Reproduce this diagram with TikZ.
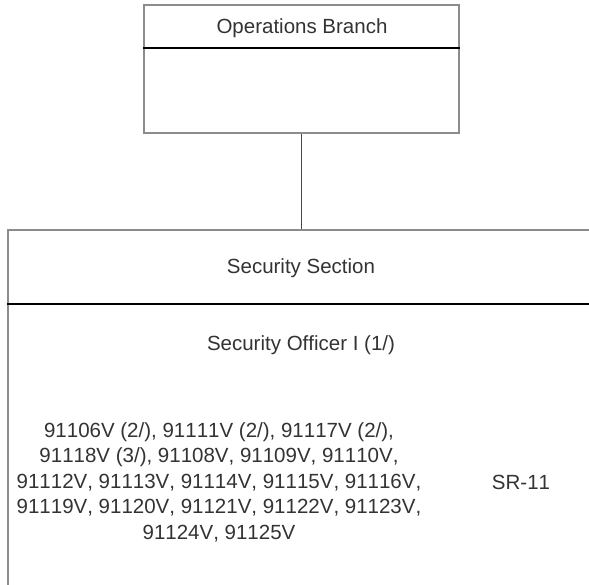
\documentclass[tikz,border=0pt]{standalone}
\usepackage{fontspec}
\setmainfont{Liberation Sans}[Kerning=Off]
\begin{document}
\begin{tikzpicture}[x=1pt,y=-1pt,
  boxframe/.style={draw=black!45, line width=1.3pt, rectangle, inner sep=0pt},
  divider/.style={draw=black, line width=1.5pt},
  conn/.style={draw=black!72, line width=1.4pt},
  txt/.style={text=black!80, font=\fontsize{20.5}{25.5}\selectfont, inner sep=0pt}]
\useasboundingbox (0,0) rectangle (589,585);
\clip (0,0) rectangle (589,585);
\fill[white] (0,0) rectangle (589,585);
% upper box
\node[boxframe, minimum width=315pt, minimum height=128pt] (ops) at (301.5,69) {};
\coordinate (d1) at (0,48);
\draw[divider] (ops.west |- d1) -- (ops.east |- d1);
\node[txt, anchor=base] (opsname) at (302,34) {Operations Branch};
% lower box
\node[boxframe, minimum width=620pt, minimum height=410pt] (sec) at (318,435) {};
\coordinate (d2) at (0,304);
\draw[divider] (sec.west |- d2) -- (sec.east |- d2);
\node[txt, anchor=base] (secname) at (301,274) {Security Section};
\node[txt, anchor=base] (officer) at (301,350) {Security Officer I (1/)};
\node[txt, anchor=north, align=center] (codes) at (219,422) {91106V (2/), 91111V (2/), 91117V (2/),\\
91118V (3/), 91108V, 91109V, 91110V,\\
91112V, 91113V, 91114V, 91115V, 91116V,\\
91119V, 91120V, 91121V, 91122V, 91123V,\\
91124V, 91125V};
\node[txt, anchor=base] (sr) at (521,489) {SR-11};
% connector
\draw[conn] (ops.south) -- (ops.south |- sec.north);
\end{tikzpicture}
\end{document}
